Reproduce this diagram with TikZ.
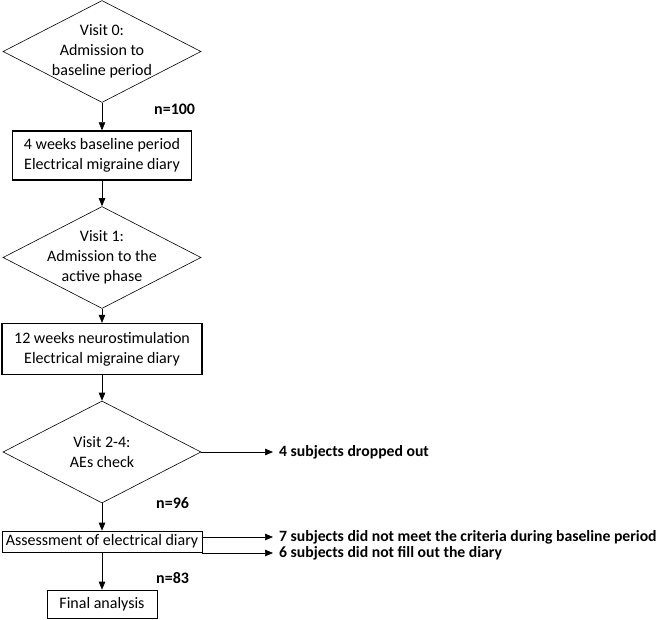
\documentclass[tikz,border=0pt]{standalone}
\usepackage{fontspec}
\setmainfont{Carlito}
\usepackage{tikz}
\usetikzlibrary{shapes.geometric, arrows.meta}
\tikzstyle{decision} = [diamond, aspect=2, minimum width=198pt, minimum height=102pt, inner xsep=-30pt, inner ysep=-20pt, align=center, draw=black, line width=0.6pt]
\tikzstyle{block} = [rectangle, minimum width=179pt, minimum height=49pt, align=center, draw=black, line width=1.3pt]
\tikzstyle{thinblock} = [rectangle, minimum width=200pt, minimum height=21pt, inner ysep=1pt, align=center, draw=black, line width=0.6pt]
\tikzstyle{arrow} = [line width=0.6pt,-{Triangle[length=8pt,width=6.5pt]}]
\tikzstyle{count} = [font=\fontsize{16}{20}\selectfont\bfseries, anchor=west, inner sep=0pt]
\tikzstyle{note} = [font=\fontsize{15.7}{20}\selectfont\bfseries, anchor=west, inner xsep=6pt, inner ysep=0pt]

\begin{document}
\begin{tikzpicture}[x=1pt, y=-1pt, font=\fontsize{16}{20}\selectfont]
        \useasboundingbox (0,0) rectangle (663,620);
        \node (visit0) [decision] at (102,51.5) {Visit 0:\\Admission to\\baseline period};
        \node (baseline) [block, below of=visit0, node distance=104pt] {4 weeks baseline period\\Electrical migraine diary};
        \draw [arrow] (visit0) -- (baseline);
        \node (visit1) [decision, below of=baseline, node distance=102pt] {Visit 1:\\Admission to the\\active phase};
        \draw [arrow] (baseline) -- (visit1);
        \node (stim) [block, minimum width=200pt, minimum height=51pt, below of=visit1, node distance=91.5pt] {12 weeks neurostimulation\\Electrical migraine diary};
        \draw [arrow] (visit1) -- (stim);
        \node (visit24) [decision, below of=stim, node distance=103pt] {Visit 2-4:\\AEs check};
        \draw [arrow] (stim) -- (visit24);
        \node (assess) [thinblock, below of=visit24, node distance=89.5pt] {Assessment of electrical diary};
        \draw [arrow] (visit24) -- (assess);
        \node (final) [thinblock, minimum width=110pt, minimum height=28pt, below of=assess, node distance=62.5pt] {Final analysis};
        \draw [arrow] (assess) -- (final);
        \node (n100) [count] at (154,109) {n=100};
        \node (n96) [count] at (156,503) {n=96};
        \node (n83) [count] at (156,578) {n=83};
        \node (dropped) [note] at (273,452) {4 subjects dropped out};
        \draw [arrow] (visit24.east) -- (dropped.west);
        \node (criteria) [note] at (273,537) {7 subjects did not meet the criteria during baseline period};
        \draw [arrow] (assess.east |- criteria.west) -- (criteria.west);
        \node (diary) [note] at (273,553) {6 subjects did not fill out the diary};
        \draw [arrow] (assess.east |- diary.west) -- (diary.west);
    \end{tikzpicture}
\end{document}
